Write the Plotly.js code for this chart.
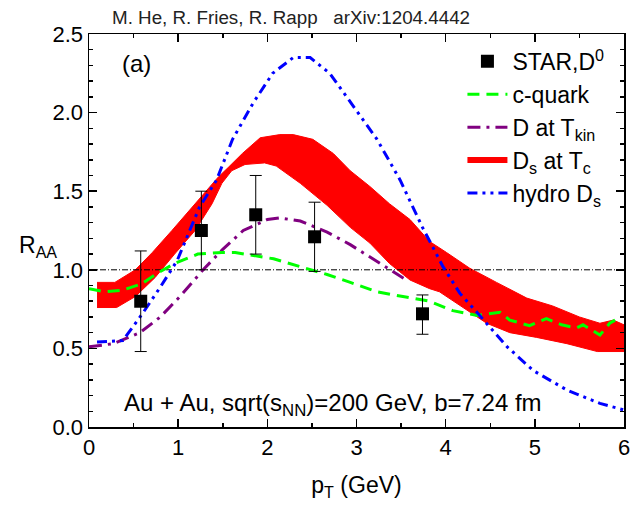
<!DOCTYPE html>
<html>
<head>
<meta charset="utf-8">
<script src="https://cdn.plot.ly/plotly-3.0.1.min.js"></script>
<style>html,body{margin:0;padding:0;background:#fff;}#chart{width:631px;height:505px;}</style>
</head>
<body>
<div id="chart"></div>
<script>
// STAR D0 data
var starX = [0.58, 1.26, 1.87, 2.53, 3.74];
var starY = [0.80, 1.25, 1.35, 1.21, 0.72];
var starErrPlus = [0.32, 0.25, 0.25, 0.22, 0.12];
var starErrMinus = [0.32, 0.25, 0.25, 0.22, 0.13];

// c-quark
var cqX = [0.0, 0.18, 0.37, 0.59, 0.77, 0.96, 1.22, 1.49, 1.64, 1.86, 2.07, 2.37, 2.67, 2.93, 3.23, 3.52, 3.82, 4.08, 4.35, 4.61, 4.72, 4.94, 5.13, 5.30, 5.47, 5.54, 5.73, 5.84, 5.90];
var cqY = [0.88, 0.86, 0.87, 0.91, 0.98, 1.04, 1.10, 1.11, 1.11, 1.09, 1.07, 1.02, 0.97, 0.92, 0.86, 0.83, 0.80, 0.74, 0.71, 0.73, 0.68, 0.645, 0.69, 0.65, 0.63, 0.65, 0.585, 0.66, 0.68];

// D at T_kin
var dkX = [0.0, 0.27, 0.57, 0.80, 1.02, 1.28, 1.50, 1.73, 2.0, 2.14, 2.37, 2.67, 2.93, 3.15, 3.37, 3.56];
var dkY = [0.51, 0.53, 0.60, 0.70, 0.83, 1.0, 1.13, 1.25, 1.32, 1.33, 1.31, 1.24, 1.16, 1.08, 1.0, 0.935];

// D_s at T_c band
var dsUpX = [0.09, 0.29, 0.52, 0.71, 0.93, 1.19, 1.45, 1.56, 1.72, 1.92, 2.14, 2.29, 2.51, 2.74, 2.93, 3.15, 3.37, 3.60, 3.82, 4.01, 4.27, 4.57, 4.91, 5.20, 5.50, 5.73, 5.88, 6.0];
var dsUpY = [0.92, 0.92, 1.0, 1.11, 1.25, 1.42, 1.59, 1.65, 1.74, 1.84, 1.86, 1.86, 1.83, 1.74, 1.63, 1.53, 1.42, 1.32, 1.18, 1.11, 1.01, 0.92, 0.82, 0.77, 0.70, 0.66, 0.68, 0.65];
var dsLoX = [0.09, 0.31, 0.52, 0.74, 0.96, 1.19, 1.38, 1.49, 1.60, 1.75, 1.97, 2.10, 2.37, 2.67, 2.93, 3.15, 3.37, 3.60, 3.82, 3.93, 4.19, 4.46, 4.72, 5.02, 5.36, 5.70, 6.0];
var dsLoY = [0.76, 0.76, 0.83, 0.95, 1.10, 1.25, 1.42, 1.55, 1.63, 1.67, 1.68, 1.66, 1.55, 1.41, 1.27, 1.17, 1.04, 0.935, 0.88, 0.86, 0.76, 0.66, 0.60, 0.57, 0.53, 0.48, 0.48];

// hydro D_s
var hyX = [0.09, 0.38, 0.61, 0.80, 0.99, 1.24, 1.43, 1.61, 1.84, 2.06, 2.29, 2.48, 2.70, 2.96, 3.23, 3.49, 3.74, 3.97, 4.16, 4.35, 4.69, 4.98, 5.36, 5.73, 5.99];
var hyY = [0.54, 0.55, 0.73, 0.89, 1.06, 1.40, 1.57, 1.83, 2.06, 2.25, 2.35, 2.35, 2.25, 2.04, 1.83, 1.57, 1.27, 1.02, 0.85, 0.73, 0.51, 0.36, 0.235, 0.15, 0.11];

// reference line
var refX = [0, 6];
var refY = [1, 1];

var FONT = 'Liberation Sans, Arial, sans-serif';

var bandX = dsUpX.concat(dsLoX.slice().reverse());
var bandY = dsUpY.concat(dsLoY.slice().reverse());

var traces = [
  {x: bandX, y: bandY, mode: 'lines', fill: 'toself', fillcolor: '#ff0000',
   line: {color: '#ff0000', width: 1}, showlegend: false, hoverinfo: 'skip'},
  {x: refX, y: refY, mode: 'lines', line: {color: '#000', width: 1, dash: '6px,2px,1px,2px'},
   showlegend: false, hoverinfo: 'skip'},
  {x: dkX, y: dkY, mode: 'lines', name: 'D at T<sub>kin</sub>', legendrank: 3,
   line: {color: '#800080', width: 3, dash: '13px,6px,3px,6px'}},
  {x: cqX, y: cqY, mode: 'lines', name: 'c-quark', legendrank: 2,
   line: {color: '#00ff00', width: 3, dash: '12px,7px'}},
  {x: [null], y: [null], mode: 'lines', name: 'D<sub>s</sub> at T<sub>c</sub>', legendrank: 4,
   line: {color: '#ff0000', width: 6}},
  {x: hyX, y: hyY, mode: 'lines', name: 'hydro D<sub>s</sub>', legendrank: 5,
   line: {color: '#0000ff', width: 3, dash: '10px,5px,3px,5px,3px,5px'}},
  {x: starX, y: starY, mode: 'markers', name: 'STAR,D<sup>0</sup>', legendrank: 1,
   marker: {symbol: 'square', size: 13, color: '#000'},
   error_y: {type: 'data', symmetric: false, array: starErrPlus, arrayminus: starErrMinus,
             color: '#000', thickness: 1, width: 6}}
];

var layout = {
  width: 631, height: 505,
  margin: {l: 89, r: 7, t: 34, b: 78},
  paper_bgcolor: '#fff', plot_bgcolor: '#fff',
  font: {family: FONT, color: '#000', size: 22},
  showlegend: true,
  legend: {x: 0.698, y: 0.985, xanchor: 'left', yanchor: 'top', bgcolor: 'rgba(0,0,0,0)',
           font: {family: FONT, size: 23, color: '#000'}, itemwidth: 40, tracegroupgap: 0},
  xaxis: {range: [0, 6], showgrid: false, zeroline: false, showline: true, linecolor: '#000', linewidth: 1.5,
          mirror: 'ticks', ticks: 'inside', ticklen: 8, tickwidth: 1.5, tickcolor: '#000', dtick: 1, tick0: 0,
          minor: {dtick: 0.5, ticks: 'inside', ticklen: 4, tickwidth: 1.5, tickcolor: '#000'},
          tickfont: {size: 22, family: FONT},
          title: {text: 'p<sub>T</sub> (GeV)', font: {size: 23, family: FONT}, standoff: 18}},
  yaxis: {range: [0, 2.5], showgrid: false, zeroline: false, showline: true, linecolor: '#000', linewidth: 1.5,
          mirror: 'ticks', ticks: 'inside', ticklen: 8, tickwidth: 1.5, tickcolor: '#000', dtick: 0.5, tick0: 0,
          tickformat: '.1f',
          minor: {dtick: 0.1, ticks: 'inside', ticklen: 4, tickwidth: 1.5, tickcolor: '#000'},
          tickfont: {size: 22, family: FONT}},
  annotations: [
    {xref: 'paper', yref: 'paper', x: -0.095, y: 0.46, xanchor: 'center', yanchor: 'middle', showarrow: false,
     text: 'R<sub>AA</sub>', font: {size: 23, family: FONT}},
    {xref: 'x', yref: 'y', x: 0.35, y: 2.31, xanchor: 'left', yanchor: 'middle', showarrow: false,
     text: '(a)', font: {size: 24, family: FONT}},
    {xref: 'x', yref: 'y', x: 2.74, y: 0.14, xanchor: 'center', yanchor: 'middle', showarrow: false,
     text: 'Au + Au, sqrt(s<sub>NN</sub>)=200 GeV, b=7.24 fm', font: {size: 24, family: FONT}},
    {xref: 'paper', yref: 'paper', x: 0.04, y: 1.0, xanchor: 'left', yanchor: 'bottom', yshift: 4, showarrow: false,
     text: 'M. He, R. Fries, R. Rapp   arXiv:1204.4442', font: {size: 18.8, family: FONT, color: '#222'}}
  ]
};

Plotly.newPlot('chart', traces, layout, {displayModeBar: false, staticPlot: true});
</script>
</body>
</html>
